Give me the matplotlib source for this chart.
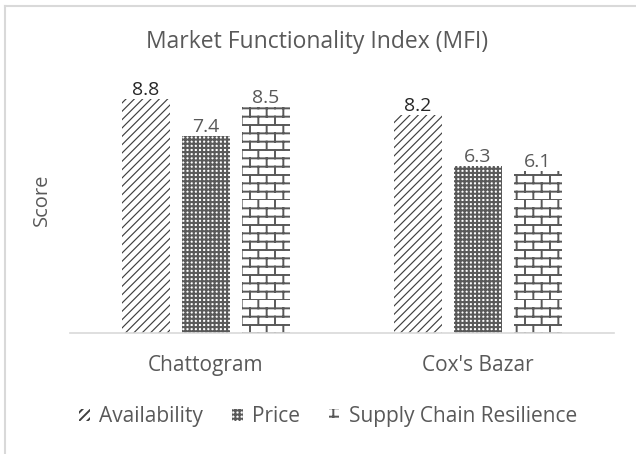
import warnings
warnings.filterwarnings("ignore")
import numpy as np
import matplotlib
matplotlib.use("Agg")
import matplotlib.pyplot as plt
import matplotlib.hatch as mhatch
from matplotlib.path import Path
from matplotlib.patches import Patch
from matplotlib.lines import Line2D

# ---- data ----
categories = ["Chattogram", "Cox's Bazar"]
series_names = ["Availability", "Price", "Supply Chain Resilience"]
availability = [8.8, 8.2]
price = [7.4, 6.3]
resilience = [8.5, 6.1]
title = "Market Functionality Index (MFI)"
ylabel = "Score"


# ---- custom brick hatch ----
class BrickHatch(mhatch.HatchPatternBase):
    def __init__(self, hatch, density):
        n = hatch.count('b')
        self.rows = 12 * n
        self.cols = 6 * n
        self.num_vertices = (self.rows + self.rows * self.cols) * 2

    def set_vertices_and_codes(self, vertices, codes):
        segs = []
        for r in range(self.rows):
            y0 = r / self.rows
            y1 = (r + 1) / self.rows
            segs.append(((0.0, y0), (1.0, y0)))
            off = 0.5 / self.cols if r % 2 else 0.0
            for c in range(self.cols):
                x = c / self.cols + off
                segs.append(((x, y0), (x, y1)))
        vertices[:] = np.array(segs, dtype=float).reshape(-1, 2)
        codes[0::2] = Path.MOVETO
        codes[1::2] = Path.LINETO


mhatch._hatch_types.append(BrickHatch)

FONT = "Open Sans"
TXT = "#595959"
plt.rcParams['font.family'] = [FONT, 'DejaVu Sans']

fig = plt.figure(figsize=(6.36, 4.54), dpi=100)
ax = fig.add_axes([0.110, 0.2665, 0.855, 0.5855])

x = np.arange(len(categories))
w = 0.176
step = 0.22
styles = [
    dict(vals=availability, hatch='////', color='#404040', lw=0.85, lab='#262626'),
    dict(vals=price, hatch='++++', color='#595959', lw=1.5, lab=TXT),
    dict(vals=resilience, hatch='b', color='#595959', lw=1.4, lab=TXT),
]
handles = []
for i, (name, st) in enumerate(zip(series_names, styles)):
    plt.rcParams['hatch.linewidth'] = st['lw']
    bars = ax.bar(x + (i - 1) * step, st['vals'], w, facecolor='white',
                  edgecolor=st['color'], linewidth=0, hatch=st['hatch'])
    for b in bars:
        if hasattr(b, 'set_hatch_linewidth'):
            b.set_hatch_linewidth(st['lw'])
    ax.bar_label(bars, labels=[f"{v:.1f}" for v in st['vals']], padding=0,
                 fontsize=14, color=st['lab'])
    h = Patch(facecolor='white', edgecolor=st['color'], linewidth=0,
              hatch=st['hatch'], label=name)
    if hasattr(h, 'set_hatch_linewidth'):
        h.set_hatch_linewidth(st['lw'])
    handles.append(h)

ax.set_xlim(-0.5, 1.5)
ax.set_ylim(0, 10)
ax.set_xticks(x)
ax.set_xticklabels(categories, fontsize=15, color=TXT)
ax.tick_params(axis='x', length=0, pad=16)
ax.set_yticks([])
for s in ['top', 'right', 'left']:
    ax.spines[s].set_visible(False)
ax.spines['bottom'].set_color('#d9d9d9')
ax.spines['bottom'].set_linewidth(1.2)
ax.set_ylabel(ylabel, fontsize=14.5, color=TXT, labelpad=13)

fig.text(0.499, 0.907, title, ha='center', va='center', fontsize=16.5, color=TXT)

leg = fig.legend(handles=handles, loc='center', bbox_to_anchor=(0.516, 0.0815),
                 ncol=3, frameon=False, fontsize=15, handlelength=0.5,
                 handleheight=0.5, handletextpad=0.45, columnspacing=1.4,
                 labelcolor=TXT)

# chart border (top and left visible)
fig.add_artist(Line2D([5 / 636, 1.0], [1 - 6 / 454, 1 - 6 / 454],
                      transform=fig.transFigure, color='#d9d9d9', lw=1.5))
fig.add_artist(Line2D([5 / 636, 5 / 636], [0.0, 1 - 6 / 454],
                      transform=fig.transFigure, color='#d9d9d9', lw=1.5))

fig.savefig("out.png", dpi=100, facecolor='white')
